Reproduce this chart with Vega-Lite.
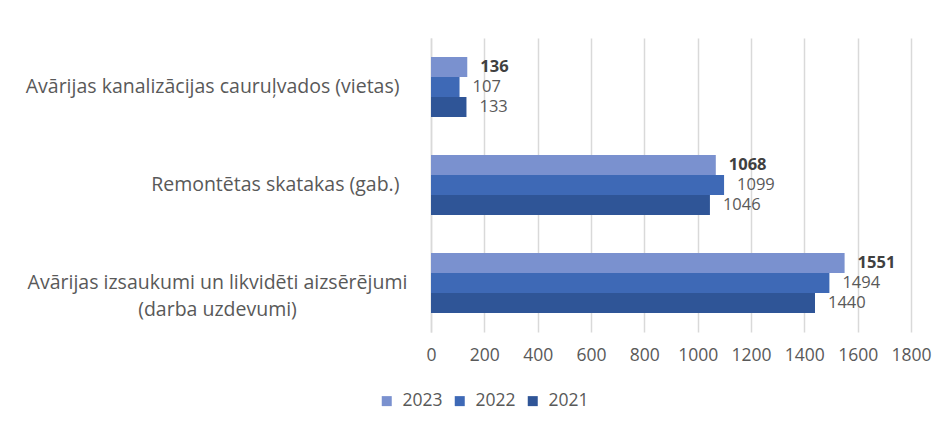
{
  "$schema": "https://vega.github.io/schema/vega-lite/v6.json",
  "width": 480,
  "height": 294,
  "autosize": "none",
  "padding": {"left": 431, "top": 38, "right": 31, "bottom": 96},
  "background": "#ffffff",
  "config": {
    "view": {"stroke": null},
    "font": "Open Sans",
    "axis": {"labelFont": "Open Sans", "labelColor": "#595959", "labelFontSize": 17.5}
  },
  "data": {
    "values": [
      {"category": "Avārijas kanalizācijas cauruļvados (vietas)", "year": "2023", "value": 136},
      {"category": "Avārijas kanalizācijas cauruļvados (vietas)", "year": "2022", "value": 107},
      {"category": "Avārijas kanalizācijas cauruļvados (vietas)", "year": "2021", "value": 133},
      {"category": "Remontētas skatakas (gab.)", "year": "2023", "value": 1068},
      {"category": "Remontētas skatakas (gab.)", "year": "2022", "value": 1099},
      {"category": "Remontētas skatakas (gab.)", "year": "2021", "value": 1046},
      {"category": "Avārijas izsaukumi un likvidēti aizsērējumi (darba uzdevumi)", "year": "2023", "value": 1551},
      {"category": "Avārijas izsaukumi un likvidēti aizsērējumi (darba uzdevumi)", "year": "2022", "value": 1494},
      {"category": "Avārijas izsaukumi un likvidēti aizsērējumi (darba uzdevumi)", "year": "2021", "value": 1440}
    ]
  },
  "encoding": {
    "y": {
      "field": "category",
      "type": "nominal",
      "sort": null,
      "scale": {"paddingInner": 0.388, "paddingOuter": 0.194},
      "axis": {
        "title": null,
        "domain": true,
        "domainColor": "#d9d9d9",
        "domainWidth": 1.5,
        "ticks": false,
        "labelLimit": 0,
        "labelFontSize": 19.5,
        "labelLineHeight": 27,
        "labelExpr": "indexof(datum.value, 'darba') >= 0 ? ['Avārijas izsaukumi un likvidēti aizsērējumi', '(darba uzdevumi)'] : datum.value",
        "labelAlign": {"condition": {"test": "indexof(datum.value, 'darba') >= 0", "value": "center"}, "value": "right"},
        "labelPadding": {"condition": {"test": "indexof(datum.value, 'darba') >= 0", "value": 214}, "value": 32}
      }
    },
    "yOffset": {
      "field": "year",
      "type": "nominal",
      "sort": ["2023", "2022", "2021"],
      "scale": {"paddingInner": 0, "paddingOuter": 0}
    },
    "x": {
      "field": "value",
      "type": "quantitative",
      "scale": {"domain": [0, 1800], "nice": false},
      "axis": {
        "title": null,
        "values": [0, 200, 400, 600, 800, 1000, 1200, 1400, 1600, 1800],
        "format": "d",
        "labelOverlap": false,
        "labelFlush": false,
        "domain": false,
        "ticks": false,
        "grid": true,
        "gridColor": "#d9d9d9",
        "gridWidth": 1.5,
        "labelPadding": 14
      }
    }
  },
  "layer": [
    {
      "mark": {"type": "bar"},
      "encoding": {
        "color": {
          "field": "year",
          "type": "nominal",
          "sort": ["2023", "2022", "2021"],
          "scale": {"domain": ["2023", "2022", "2021"], "range": ["#7a91cf", "#3e69b6", "#2f5597"]},
          "legend": {
            "title": null,
            "orient": "none",
            "direction": "horizontal",
            "legendX": -53,
            "legendY": 354,
            "symbolType": "square",
            "symbolSize": 100,
            "symbolStrokeWidth": 0,
            "labelFont": "Open Sans",
            "labelFontSize": 17.5,
            "labelColor": "#595959",
            "labelOffset": 7,
            "columnPadding": 8
          }
        }
      }
    },
    {
      "transform": [{"filter": "datum.year == '2023'"}],
      "mark": {"type": "text", "align": "left", "baseline": "middle", "dx": 13, "fontSize": 16.5, "font": "Open Sans", "fontWeight": "bold", "color": "#404040"},
      "encoding": {
        "text": {"field": "value", "type": "quantitative"}
      }
    },
    {
      "transform": [{"filter": "datum.year != '2023'"}],
      "mark": {"type": "text", "align": "left", "baseline": "middle", "dx": 13, "fontSize": 16.5, "font": "Open Sans", "color": "#595959"},
      "encoding": {
        "text": {"field": "value", "type": "quantitative"}
      }
    }
  ]
}
